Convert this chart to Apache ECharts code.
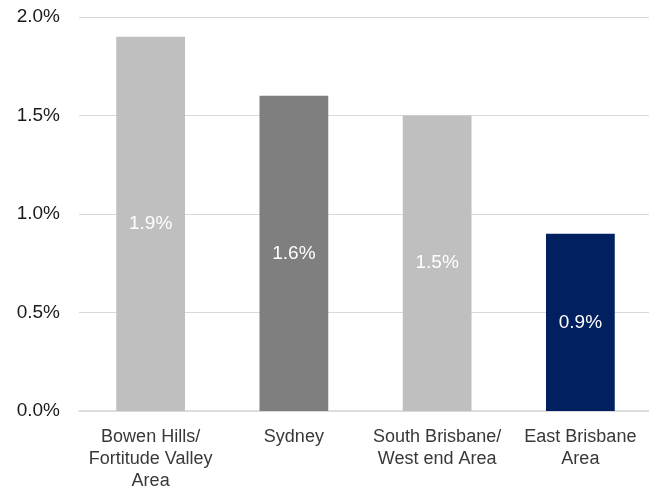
<!DOCTYPE html>
<html><head><meta charset="utf-8">
<script src="https://cdn.jsdelivr.net/npm/echarts@6/dist/echarts.min.js"></script>
<style>html,body{margin:0;padding:0;background:#fff;width:100%;height:100%;overflow:hidden}#c{width:649px;height:488px;position:absolute;left:0;top:0}</style>
</head><body><div id="c"></div>
<script>
const categories = ["Bowen Hills/\nFortitude Valley\nArea", "Sydney", "South Brisbane/\nWest end Area", "East Brisbane\nArea"];
const values = [1.9, 1.6, 1.5, 0.9];
const barColors = ["#bfbfbf", "#7f7f7f", "#bfbfbf", "#002060"];
const yTicks = {min: 0, max: 2, interval: 0.5};

const chart = echarts.init(document.getElementById('c'), null, {renderer: 'canvas', width: 649, height: 488});
chart.setOption({
  animation: false,
  textStyle: {fontFamily: 'Liberation Sans, Arial, sans-serif'},
  grid: {left: 79, top: 17, bottom: 77, width: 573, containLabel: false, outerBoundsMode: 'none'},
  xAxis: {
    type: 'category', data: categories,
    axisLine: {show: true, lineStyle: {color: '#d9d9d9', width: 1.5}},
    axisTick: {show: false},
    axisLabel: {color: '#383838', fontSize: 18, lineHeight: 22, margin: 15, interval: 0}
  },
  yAxis: {
    type: 'value', min: yTicks.min, max: yTicks.max, interval: yTicks.interval,
    axisLine: {show: false}, axisTick: {show: false},
    splitLine: {lineStyle: {color: '#d9d9d9', width: 1.2}},
    axisLabel: {color: '#1a1a1a', fontSize: 19, margin: 19, formatter: v => v.toFixed(1) + '%'}
  },
  series: [{
    type: 'bar',
    data: values.map((v, i) => ({value: v, itemStyle: {color: barColors[i]}})),
    barWidth: '48%',
    label: {show: true, position: 'inside', color: '#fff', fontSize: 19, formatter: p => p.value.toFixed(1) + '%'}
  }]
});
</script></body></html>
